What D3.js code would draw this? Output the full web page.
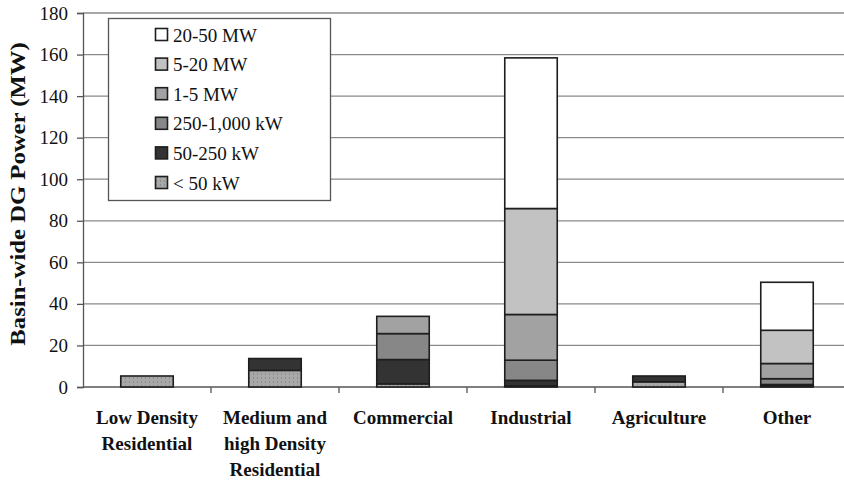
<!DOCTYPE html>
<html>
<head>
<meta charset="utf-8">
<script src="https://cdn.jsdelivr.net/npm/d3@7"></script>
<style>
  html, body { margin: 0; padding: 0; background: #fff; }
  svg { display: block; }
  svg text { font-family: 'Liberation Serif', 'Times New Roman', 'DejaVu Serif', serif; }
</style>
</head>
<body>
<svg id="chart" width="844" height="481"></svg>
<script>
// Land-use categories (two or three label lines each)
const categories = ["Low Density Residential", "Medium and high Density Residential", "Commercial", "Industrial", "Agriculture", "Other"];
const categoryLines = [["Low Density", "Residential"], ["Medium and", "high Density", "Residential"], ["Commercial"], ["Industrial"], ["Agriculture"], ["Other"]];

// Generator size classes, stacked bottom to top
const sizeClasses = ["< 50 kW", "50-250 kW", "250-1,000 kW", "1-5 MW", "5-20 MW", "20-50 MW"];

// Basin-wide DG power (MW) per size class, one value per category
const under50kW   = [5.3, 8.0, 1.5, 0.5, 2.5, 0.4];
const kW50to250   = [0.0, 5.7, 11.7, 2.7, 2.8, 0.8];
const kW250to1000 = [0.0, 0.0, 12.5, 9.7, 0.0, 2.8];
const MW1to5      = [0.0, 0.0, 8.3, 22.0, 0.0, 7.3];
const MW5to20     = [0.0, 0.0, 0.0, 51.0, 0.0, 16.0];
const MW20to50    = [0.0, 0.0, 0.0, 72.5, 0.0, 23.1];

const yTicks = [0, 20, 40, 60, 80, 100, 120, 140, 160, 180];

const seriesValues = [under50kW, kW50to250, kW250to1000, MW1to5, MW5to20, MW20to50];
const fills = ["url(#dots)", "#333333", "#878787", "#a2a2a2", "#c2c2c2", "#ffffff"];

const rows = categories.map((c, i) => {
  const r = { category: c };
  sizeClasses.forEach((s, k) => { r[s] = seriesValues[k][i]; });
  return r;
});

const serif = "'Liberation Serif', 'Times New Roman', 'DejaVu Serif', serif";
const svg = d3.select("#chart");

// speckled grey fill for the smallest class
const defs = svg.append("defs");
const pat = defs.append("pattern").attr("id", "dots")
  .attr("patternUnits", "userSpaceOnUse").attr("width", 4).attr("height", 4);
pat.append("rect").attr("width", 4).attr("height", 4).attr("fill", "#a8a8a8");
pat.append("rect").attr("x", 1).attr("y", 1).attr("width", 1).attr("height", 2).attr("fill", "#8c8c8c");

const plotLeft = 83, plotRight = 851, plotTop = 13, plotBottom = 387;

const x = d3.scaleBand().domain(categories).range([plotLeft, plotRight]).padding(0);
const y = d3.scaleLinear().domain([0, 180]).range([plotBottom, plotTop]);

// horizontal gridlines
svg.append("g").selectAll("line").data(yTicks.slice(1)).join("line")
  .attr("x1", plotLeft).attr("x2", 844)
  .attr("y1", d => y(d)).attr("y2", d => y(d))
  .attr("stroke", "#8a8a8a").attr("stroke-width", 1.3);

// y axis
const yAxis = svg.append("g").attr("transform", `translate(${plotLeft},0)`)
  .call(d3.axisLeft(y).tickValues(yTicks).tickSize(6).tickPadding(9));
yAxis.attr("font-family", null);
yAxis.select(".domain").attr("stroke", "#555").attr("stroke-width", 1.3);
yAxis.selectAll(".tick line").attr("stroke", "#555").attr("stroke-width", 1.3);
yAxis.selectAll(".tick text").attr("font-size", 19).attr("fill", "#111")
  .style("font-family", serif);

// x axis baseline with ticks at category boundaries
svg.append("line").attr("x1", plotLeft).attr("x2", 844).attr("y1", plotBottom).attr("y2", plotBottom)
  .attr("stroke", "#555").attr("stroke-width", 1.3);
svg.append("g").selectAll("line").data(categories).join("line")
  .attr("x1", d => x(d) + x.bandwidth()).attr("x2", d => x(d) + x.bandwidth())
  .attr("y1", plotBottom).attr("y2", plotBottom + 6)
  .attr("stroke", "#555").attr("stroke-width", 1.3);

// stacked bars
const stack = d3.stack().keys(sizeClasses)(rows);
const barW = x.bandwidth() * 0.41;
svg.append("g").selectAll("g").data(stack).join("g")
  .attr("fill", (d, i) => fills[i])
  .selectAll("rect").data(d => d.filter(p => p[1] - p[0] > 0)).join("rect")
  .attr("x", d => x(d.data.category) + (x.bandwidth() - barW) / 2)
  .attr("width", barW)
  .attr("y", d => y(d[1]))
  .attr("height", d => y(d[0]) - y(d[1]))
  .attr("stroke", "#1e1e1e").attr("stroke-width", 1.6);

// category labels
const lab = svg.append("g").selectAll("text").data(categories).join("text")
  .attr("text-anchor", "middle").attr("font-weight", "bold").attr("font-size", 19)
  .attr("fill", "#111").style("font-family", serif)
  .attr("x", d => x(d) + x.bandwidth() / 2).attr("y", 424);
lab.each(function(d, i) {
  const t = d3.select(this);
  categoryLines[i].forEach((ln, j) => {
    t.append("tspan").attr("x", x(d) + x.bandwidth() / 2).attr("dy", j === 0 ? 0 : 26).text(ln);
  });
});

// y axis title
svg.append("text")
  .attr("transform", "translate(25,194) rotate(-90) scale(1.3,1.05)")
  .attr("text-anchor", "middle").attr("font-weight", "bold").attr("font-size", 19)
  .attr("fill", "#111").style("font-family", serif)
  .text("Basin-wide DG Power (MW)");

// legend
const lg = svg.append("g");
lg.append("rect").attr("x", 108.5).attr("y", 18.5).attr("width", 222).attr("height", 182)
  .attr("fill", "#fff").attr("stroke", "#555").attr("stroke-width", 1.3);
const legendOrder = sizeClasses.map((s, i) => ({ s, fill: fills[i] })).reverse();
const li = lg.selectAll("g.item").data(legendOrder).join("g").attr("class", "item")
  .attr("transform", (d, i) => `translate(155,${35 + i * 29.6})`);
li.append("rect").attr("x", 0.5).attr("y", -6.5).attr("width", 12).attr("height", 12)
  .attr("fill", d => d.fill).attr("stroke", "#1e1e1e").attr("stroke-width", 1.6);
li.append("text").attr("x", 18).attr("y", 6.5).attr("font-size", 19).attr("fill", "#111")
  .style("font-family", serif)
  .text(d => d.s);
</script>
</body>
</html>
